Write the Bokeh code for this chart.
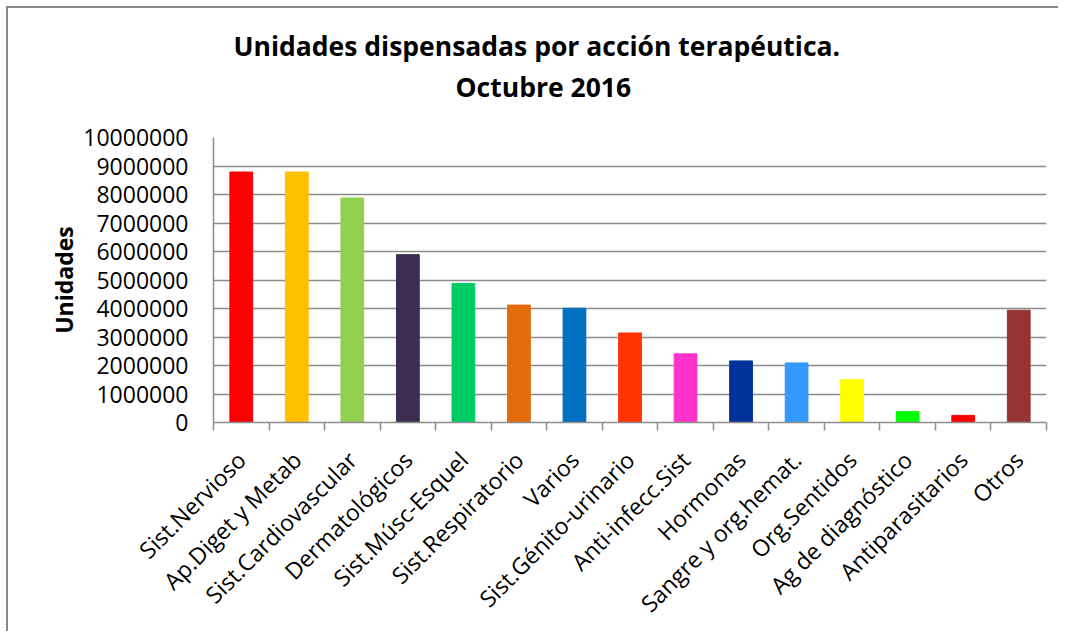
import math
from bokeh.plotting import figure
from bokeh.models import ColumnDataSource, FixedTicker, Range1d, Title
from bokeh.embed import file_html
from bokeh.resources import INLINE

categorias = ["Sist.Nervioso", "Ap.Diget y Metab", "Sist.Cardiovascular", "Dermatológicos",
              "Sist.Músc-Esquel", "Sist.Respiratorio", "Varios", "Sist.Génito-urinario",
              "Anti-infecc.Sist", "Hormonas", "Sangre y org.hemat.", "Org.Sentidos",
              "Ag de diagnóstico", "Antiparasitarios", "Otros"]
unidades = [8790000, 8790000, 7880000, 5890000, 4880000, 4120000, 4010000, 3140000,
            2410000, 2160000, 2090000, 1500000, 380000, 250000, 3940000]
colores = ["#FF0000", "#FFC000", "#92D050", "#3D2D52", "#00CC66", "#E46C0A", "#0070C0",
           "#FF3300", "#FF33CC", "#003399", "#3399FF", "#FFFF00", "#00FF00", "#FF0000", "#993333"]
y_ticks = list(range(0, 10000001, 1000000))

FONT = "Open Sans"
GRID = "#8C8C8C"

n = len(categorias)
xs = [i + 0.5 for i in range(n)]
src = ColumnDataSource(dict(x=xs, top=unidades, color=colores, name=categorias))

p = figure(width=1052, height=625, output_backend="svg", toolbar_location=None,
           x_range=Range1d(0, n), y_range=Range1d(0, 10000000),
           min_border_left=205, min_border_right=14, min_border_top=129, min_border_bottom=209)
p.styles = {"margin-left": "8px", "margin-top": "8px",
            "box-shadow": "-2px -2px 0px 0px #888888"}

p.vbar(x="x", top="top", bottom=0, width=0.41, color="color", source=src)

t2 = Title(text="Octubre 2016", align="left", text_font=FONT, text_font_size="26.5px",
           text_font_style="bold", text_color="#000000", standoff=66, offset=242)
t1 = Title(text="Unidades dispensadas por acción terapéutica.", align="left", text_font=FONT,
           text_font_size="26.5px", text_font_style="bold", text_color="#000000",
           standoff=-60, offset=20)
p.add_layout(t2, "above")
p.add_layout(t1, "above")
p.title.text = ""

p.outline_line_color = None
p.xgrid.grid_line_color = None
p.ygrid.grid_line_color = GRID
p.ygrid.grid_line_width = 1.5
p.yaxis.ticker = FixedTicker(ticks=y_ticks)
p.yaxis.formatter.use_scientific = False
p.yaxis.axis_label = "Unidades"
p.yaxis.axis_label_text_font = FONT
p.yaxis.axis_label_text_font_size = "23px"
p.yaxis.axis_label_text_font_style = "bold"
p.yaxis.axis_label_text_color = "#000000"
p.yaxis.axis_label_standoff = 0
p.yaxis.major_tick_in = 0
p.yaxis.major_tick_out = 8
p.yaxis.minor_tick_line_color = None
p.yaxis.major_label_standoff = 17

p.xaxis.ticker = FixedTicker(ticks=xs, minor_ticks=list(range(n + 1)))
p.xaxis.major_label_overrides = {x: c for x, c in zip(xs, categorias)}
p.xaxis.major_tick_in = 0
p.xaxis.major_tick_out = 8
p.xaxis.minor_tick_in = 0
p.xaxis.minor_tick_out = 8
p.xaxis.minor_tick_line_color = GRID
p.xaxis.minor_tick_line_width = 1.5
p.xaxis.major_label_orientation = math.pi / 4
p.xaxis.major_label_standoff = 25

for ax in (p.xaxis, p.yaxis):
    ax.axis_line_color = GRID
    ax.axis_line_width = 1.5
    ax.major_tick_line_color = GRID if ax is p.yaxis else None
    ax.major_tick_line_width = 1.5
    ax.major_label_text_font = FONT
    ax.major_label_text_font_size = "23px"
    ax.major_label_text_color = "#000000"

open("out.html", "w").write(file_html(p, INLINE))
